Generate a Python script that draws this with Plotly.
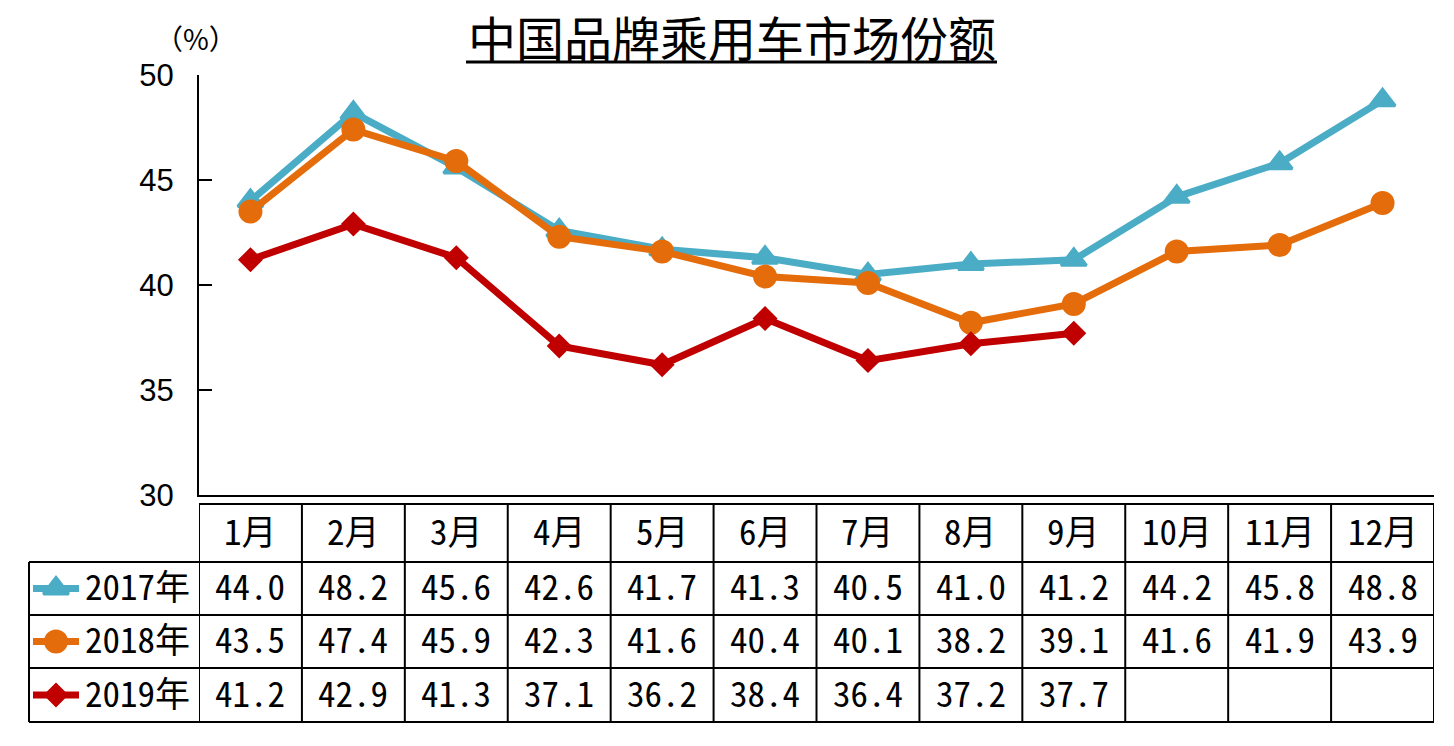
import plotly.graph_objects as go

# ---------------- data ----------------
months = ["1月", "2月", "3月", "4月", "5月", "6月", "7月", "8月", "9月", "10月", "11月", "12月"]
series_names = ["2017年", "2018年", "2019年"]
v2017 = [44.0, 48.2, 45.6, 42.6, 41.7, 41.3, 40.5, 41.0, 41.2, 44.2, 45.8, 48.8]
v2018 = [43.5, 47.4, 45.9, 42.3, 41.6, 40.4, 40.1, 38.2, 39.1, 41.6, 41.9, 43.9]
v2019 = [41.2, 42.9, 41.3, 37.1, 36.2, 38.4, 36.4, 37.2, 37.7]
y_ticks = [30, 35, 40, 45, 50]
title_text = "中国品牌乘用车市场份额"
unit_text = "（%）"

# ---------------- style ----------------
colors = ["#4BACC6", "#E46C0A", "#C00000"]
symbols = ["triangle-up", "circle", "diamond"]
msizes = [22, 21, 16]
W, H = 1454, 746
L, R, T, B = 199, 1434, 75, 495          # plot area in pixels
TAB_TOP, HDR_BOT = 504, 562
ROW_BOTS = [615, 668, 722]
LEG_LEFT = 29
TEXT_SHIFT = 4                            # baseline correction for CJK font
CJK = "Noto Sans CJK SC"
MONO = "Noto Sans Mono CJK SC, Noto Sans CJK SC"


def px(x):
    return x / W


def py(y):
    return 1 - y / H


all_values = [v2017, v2018, v2019]
fig = go.Figure()

for name, vals, c, s, ms in zip(series_names, all_values, colors, symbols, msizes):
    fig.add_trace(go.Scatter(
        x=months[:len(vals)], y=vals, mode="lines+markers", name=name,
        line=dict(color=c, width=7),
        marker=dict(symbol=s, size=ms, color=c, line=dict(color=c, width=3)),
        xaxis="x", yaxis="y", showlegend=False, cliponaxis=False,
    ))

# legend samples inside the table's first column (pixel overlay axes)
row_tops = [HDR_BOT] + ROW_BOTS[:-1]
row_centers = [(a + b) / 2 for a, b in zip(row_tops, ROW_BOTS)]
for name, c, s, ms, yc in zip(series_names, colors, symbols, msizes, row_centers):
    fig.add_trace(go.Scatter(
        x=[33, 79], y=[yc, yc], mode="lines", line=dict(color=c, width=7),
        xaxis="x2", yaxis="y2", showlegend=False, hoverinfo="skip"))
    fig.add_trace(go.Scatter(
        x=[56], y=[yc], mode="markers",
        marker=dict(symbol=s, size=ms, color=c, line=dict(color=c, width=3)),
        xaxis="x2", yaxis="y2", showlegend=False, hoverinfo="skip"))

shapes = []
line_style = dict(color="black", width=2)
# horizontal table lines
shapes.append(dict(type="line", xref="paper", yref="paper", x0=px(L), x1=px(R),
                   y0=py(TAB_TOP), y1=py(TAB_TOP), line=line_style))
for yb in [HDR_BOT] + ROW_BOTS:
    shapes.append(dict(type="line", xref="paper", yref="paper", x0=px(LEG_LEFT), x1=px(R),
                       y0=py(yb), y1=py(yb), line=line_style))
# vertical table lines at category boundaries
for i in range(len(months) + 1):
    shapes.append(dict(type="line", xref="x", yref="paper", x0=i - 0.5, x1=i - 0.5,
                       y0=py(TAB_TOP), y1=py(ROW_BOTS[-1]), line=line_style))
shapes.append(dict(type="line", xref="paper", yref="paper", x0=px(LEG_LEFT), x1=px(LEG_LEFT),
                   y0=py(HDR_BOT), y1=py(ROW_BOTS[-1]), line=line_style))
# title underline
shapes.append(dict(type="line", xref="paper", yref="paper", x0=px(466), x1=px(997),
                   y0=py(62), y1=py(62), line=dict(color="black", width=3)))

annotations = []
tab_font = dict(family=MONO, size=35, color="black")
hdr_center = (TAB_TOP + HDR_BOT) / 2 - TEXT_SHIFT
for m in months:
    annotations.append(dict(x=m, y=py(hdr_center), xref="x", yref="paper", text=m,
                            showarrow=False, font=tab_font, xanchor="center", yanchor="middle"))
for name, vals, yc in zip(series_names, all_values, row_centers):
    yt = yc - TEXT_SHIFT
    annotations.append(dict(x=px(83), y=py(yt), xref="paper", yref="paper", text=name,
                            showarrow=False, font=tab_font, xanchor="left", yanchor="middle"))
    for m, v in zip(months, vals):
        annotations.append(dict(x=m, y=py(yt), xref="x", yref="paper",
                                text=f"{v:.1f}",
                                showarrow=False, font=tab_font, xanchor="center", yanchor="middle"))
annotations.append(dict(x=px(732), y=py(36), xref="paper", yref="paper", text=title_text,
                        showarrow=False, font=dict(family=CJK, size=48, color="black", weight="normal"),
                        xanchor="center", yanchor="middle"))
annotations.append(dict(x=px(196), y=py(38), xref="paper", yref="paper", text=unit_text,
                        showarrow=False, font=dict(family=CJK, size=28, color="black"),
                        xanchor="center", yanchor="middle"))

fig.update_layout(
    width=W, height=H, autosize=False,
    margin=dict(l=0, r=0, t=0, b=0, pad=0, autoexpand=False),
    paper_bgcolor="white", plot_bgcolor="rgba(0,0,0,0)",
    xaxis=dict(domain=[px(L), px(R)], type="category", categoryorder="array",
               categoryarray=months, range=[-0.5, len(months) - 0.5],
               showticklabels=False, ticks="", showgrid=False, zeroline=False,
               showline=True, linecolor="black", linewidth=2, anchor="y", automargin=False),
    yaxis=dict(domain=[py(B), py(T)], range=[30, 50], tickvals=y_ticks,
               ticks="inside", ticklen=13, tickwidth=2, tickcolor="black",
               showgrid=False, zeroline=False, showline=True, linecolor="black", linewidth=2,
               tickfont=dict(family="Liberation Sans", size=31, color="black"),
               ticklabelstandoff=17, anchor="x", automargin=False),
    xaxis2=dict(domain=[0, 1], range=[0, W], visible=False, anchor="y2", automargin=False),
    yaxis2=dict(domain=[0, 1], range=[H, 0], visible=False, anchor="x2", automargin=False),
    shapes=shapes, annotations=annotations,
)

fig.write_html("out.html")
